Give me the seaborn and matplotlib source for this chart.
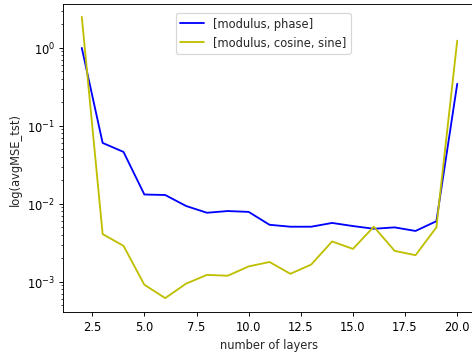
import numpy as np
import pandas as pd
import matplotlib
matplotlib.use('Agg')
import matplotlib.pyplot as plt
import seaborn as sns

# ================= DATA =================
layers = list(range(2, 21))
mse_mod_phase = [1.0, 0.0605, 0.0464, 0.0132, 0.013, 0.0094, 0.0077, 0.0081, 0.0079,
                 0.0054, 0.0051, 0.0051, 0.0057, 0.0052, 0.0048, 0.0050, 0.0045, 0.0060, 0.346]
mse_mod_cos_sin = [2.5, 0.0041, 0.0029, 0.00092, 0.00062, 0.00095, 0.00123, 0.0012, 0.00158,
                   0.0018, 0.00127, 0.00167, 0.0033, 0.00265, 0.0051, 0.0025, 0.0022, 0.0050, 1.24]
labels = ['[modulus, phase]', '[modulus, cosine, sine]']

df = pd.DataFrame({
    'layers': layers * 2,
    'mse': mse_mod_phase + mse_mod_cos_sin,
    'features': [labels[0]] * len(layers) + [labels[1]] * len(layers),
})

# ================= PLOT =================
sns.set_style('ticks')
plt.rcParams['font.family'] = ['DejaVu Sans']

DPI = 83
fig = plt.figure(figsize=(472 / DPI, 353 / DPI), dpi=DPI)
ax = fig.add_axes([0.1335, 0.113, 0.875, 0.873])

sns.lineplot(data=df, x='layers', y='mse', hue='features',
             palette=['b', 'y'], linewidth=1.6, ax=ax)

ax.set_yscale('log')
ax.set_xlim(1.1, 20.9)
ax.set_ylim(4.1e-4, 3.66)
ax.set_xticks([2.5, 5.0, 7.5, 10.0, 12.5, 15.0, 17.5, 20.0])
ax.set_xticklabels(['2.5', '5.0', '7.5', '10.0', '12.5', '15.0', '17.5', '20.0'])
ax.set_xlabel('number of layers')
ax.set_ylabel('log(avgMSE_tst)')
ax.legend(loc='upper center', bbox_to_anchor=(0.485, 0.99))

for s in ax.spines.values():
    s.set_color('black')
ax.tick_params(colors='black', which='both')

plt.savefig('out.png', dpi=DPI)
